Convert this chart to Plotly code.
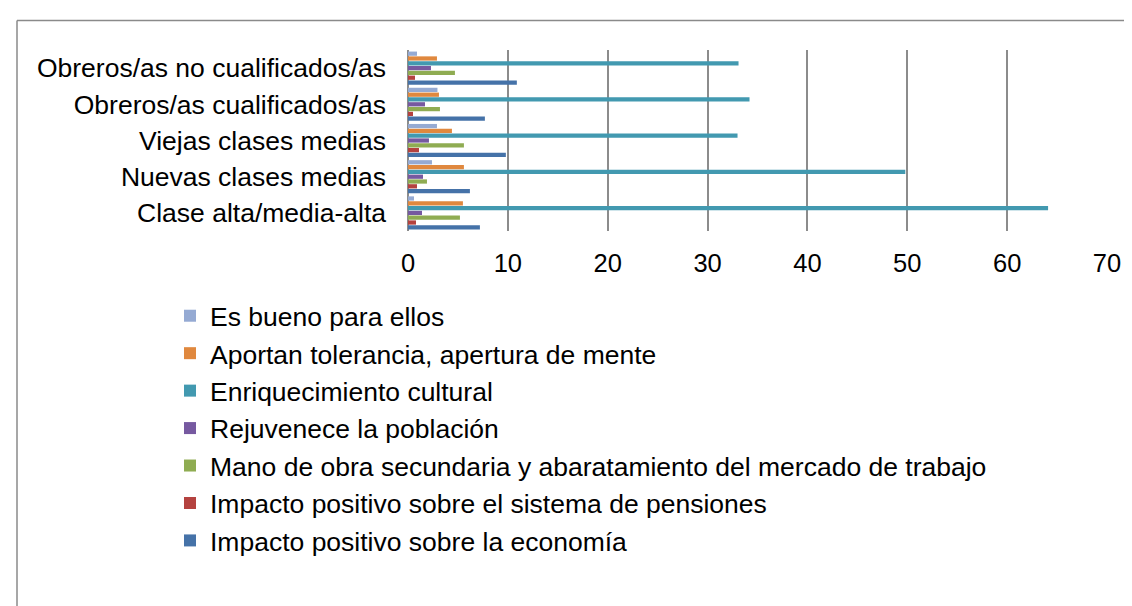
import plotly.graph_objects as go

# Categories (bottom to top as drawn)
categories = [
    "Clase alta/media-alta",
    "Nuevas clases medias",
    "Viejas clases medias",
    "Obreros/as cualificados/as",
    "Obreros/as no cualificados/as",
]

# Series values, same order as categories
es_bueno = [0.6, 2.4, 2.9, 2.95, 0.9]
aportan = [5.5, 5.6, 4.4, 3.1, 2.9]
enriquecimiento = [64.1, 49.8, 33.0, 34.2, 33.1]
rejuvenece = [1.4, 1.5, 2.1, 1.7, 2.3]
mano_obra = [5.2, 1.9, 5.6, 3.2, 4.7]
pensiones = [0.8, 0.9, 1.1, 0.5, 0.7]
economia = [7.2, 6.2, 9.8, 7.7, 10.9]

series_names = [
    "Es bueno para ellos",
    "Aportan tolerancia, apertura de mente",
    "Enriquecimiento cultural",
    "Rejuvenece la población",
    "Mano de obra secundaria y abaratamiento del mercado de trabajo",
    "Impacto positivo sobre el sistema de pensiones",
    "Impacto positivo sobre la economía",
]
series_values = [es_bueno, aportan, enriquecimiento, rejuvenece, mano_obra, pensiones, economia]
series_colors = ["#95AAD3", "#E0883E", "#4299B0", "#7659A0", "#8FAC52", "#B4423F", "#4572A8"]

x_ticks = [0, 10, 20, 30, 40, 50, 60, 70]

FONT = "Liberation Sans, Arial, sans-serif"

fig = go.Figure()
# Add in reverse so that the first legend series sits at the top of each group
for name, vals, col in reversed(list(zip(series_names, series_values, series_colors))):
    fig.add_trace(go.Bar(
        y=categories, x=vals, name=name, orientation="h",
        marker=dict(color=col, line=dict(width=0)),
        legendgroup=name,
    ))

W, H = 1132, 606
L, R, T, B = 400, 1099, 42, 223
pw, ph = R - L, B - T

def px_x(x):
    return (x - L) / pw

def px_y(y):
    return (B - y) / ph

fig.update_layout(
    width=W, height=H,
    margin=dict(l=L, r=W - R, t=T, b=H - B, autoexpand=False),
    paper_bgcolor="white", plot_bgcolor="white",
    barmode="group", bargap=0.07, bargroupgap=0.12,
    font=dict(family=FONT, size=26, color="black"),
    showlegend=True,
    legend=dict(
        traceorder="reversed",
        x=px_x(162), y=px_y(284), xanchor="left", yanchor="top",
        font=dict(family=FONT, size=26.5, color="black"),
        tracegroupgap=8, itemwidth=30, bgcolor="rgba(0,0,0,0)",
    ),
    xaxis=dict(
        range=[0, 70], tickvals=x_ticks, ticktext=[str(v) for v in x_ticks],
        showgrid=True, gridcolor="#8c8c8c", gridwidth=2,
        zeroline=True, zerolinecolor="#8c8c8c", zerolinewidth=2,
        showline=False, ticks="", ticklabelstandoff=14,
        tickfont=dict(family=FONT, size=25.5, color="black"),
        fixedrange=True,
    ),
    yaxis=dict(
        type="category", categoryorder="array", categoryarray=categories,
        showgrid=False, zeroline=False, showline=False, ticks="",
        ticklabelstandoff=21,
        tickfont=dict(family=FONT, size=26.5, color="black"),
        fixedrange=True,
    ),
    shapes=[
        dict(type="line", xref="paper", yref="paper",
             x0=px_x(9), x1=px_x(1140), y0=px_y(12.5), y1=px_y(12.5),
             line=dict(color="#8a8a8a", width=1.5)),
        dict(type="line", xref="paper", yref="paper",
             x0=px_x(9), x1=px_x(9), y0=px_y(12.5), y1=px_y(620),
             line=dict(color="#8a8a8a", width=1.5)),
    ],
)

fig.write_html("out.html")
